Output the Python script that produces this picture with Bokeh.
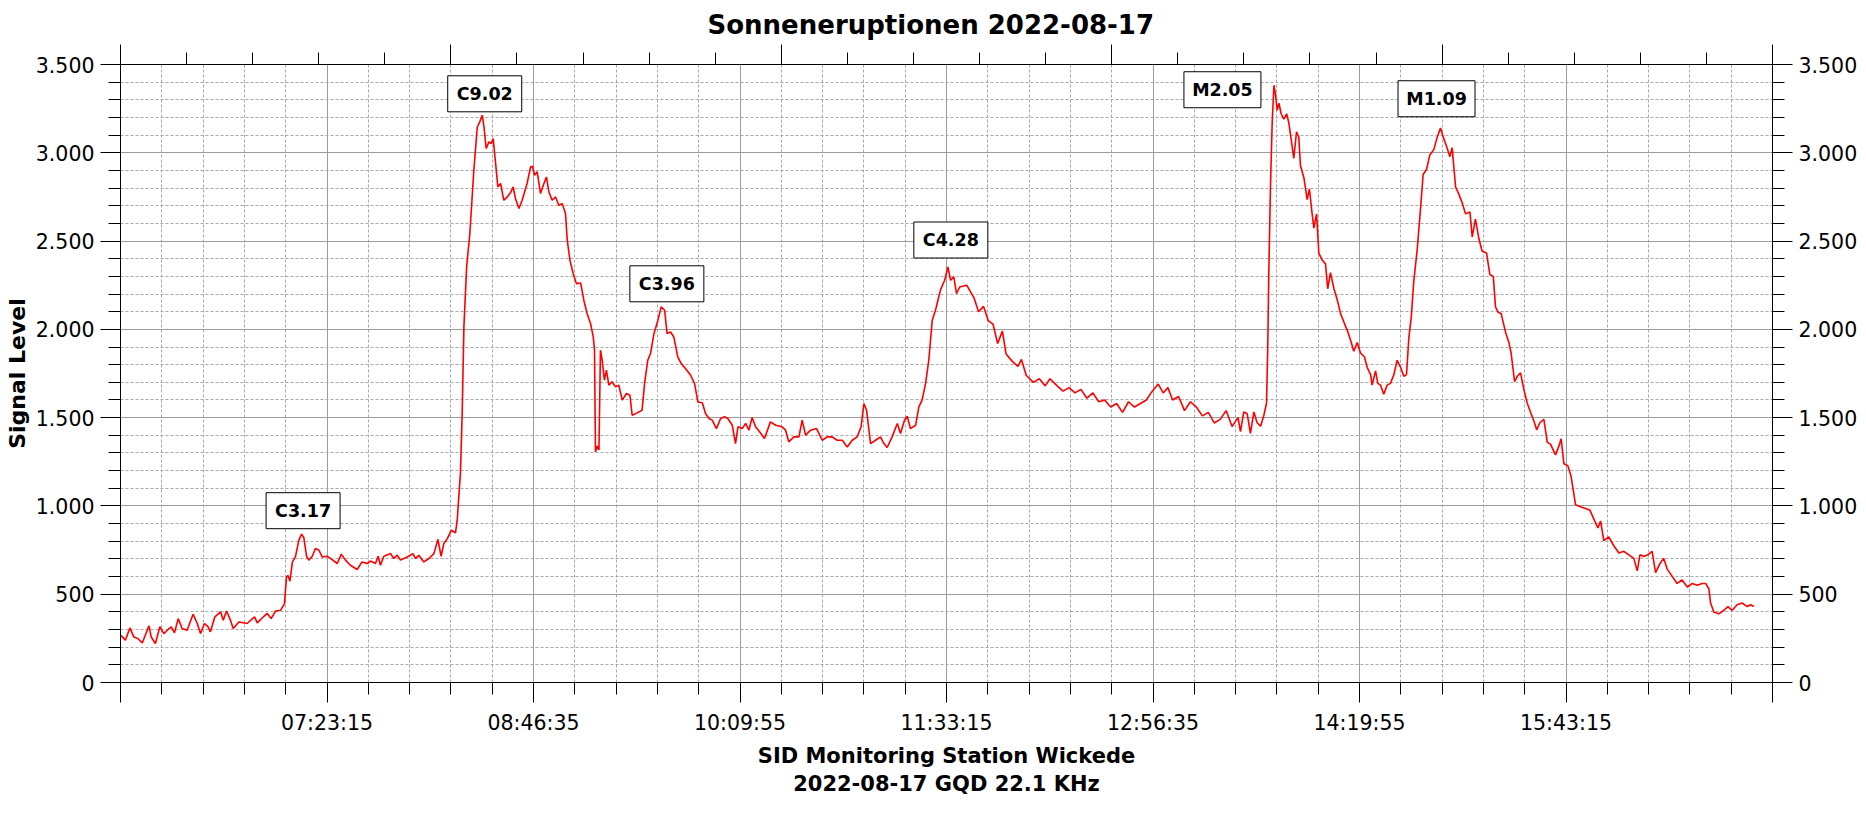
from bokeh.plotting import figure
from bokeh.models import Range1d, LinearAxis, FixedTicker, CustomJSTickFormatter, ColumnDataSource
from bokeh.core.properties import value
from bokeh.embed import file_html
from bokeh.resources import INLINE

# ---------------- data (time in minutes since midnight, signal level) ----------------
minutes = [
    359.9, 361.9, 363.7, 365.3, 366.9, 368.7, 371.4, 372.3, 374.0, 375.8,
    377.4, 378.8, 380.4, 381.7, 383.2, 384.8, 386.8, 389.2, 390.9, 392.2,
    393.8, 395.2, 396.2, 398.0, 400.3, 401.4, 402.7, 404.3, 405.4, 407.7,
    411.0, 414.0, 415.1, 417.8, 419.1, 420.7, 422.5, 424.5, 426.1, 426.9,
    427.5, 428.3, 429.3, 430.5, 431.9, 433.0, 433.9, 435.0, 435.9, 437.3,
    438.6, 440.0, 441.3, 443.3, 445.3, 447.4, 449.0, 450.7, 452.7, 455.4,
    457.4, 459.5, 460.8, 462.8, 463.9, 464.8, 466.2, 468.9, 470.2, 471.6,
    472.9, 475.6, 477.9, 479.0, 480.3, 482.3, 484.4, 486.4, 488.0, 489.3,
    490.4, 491.8, 493.4, 495.1, 495.8, 496.9,
    497.1, 497.8, 498.5, 499.6, 500.9, 502.5, 503.9, 504.9, 505.9, 506.6,
    507.5, 508.6, 509.5, 510.3, 511.3, 512.2, 513.3, 514.6, 516.0, 517.3,
    518.4, 519.3, 520.7, 522.0, 524.0, 525.4, 526.2, 527.0, 528.1, 529.4,
    530.8, 531.8, 532.8, 534.1, 535.5, 536.8, 538.2, 539.5, 540.2, 541.3,
    542.6, 543.9, 545.6, 546.9, 548.2, 549.6, 550.7, 551.2, 551.6, 552.3,
    553.0, 553.6, 554.3, 555.2, 556.0, 557.0, 558.3, 559.7, 561.0, 562.4,
    564.1, 565.5, 566.4, 568.4, 570.4, 571.4, 572.7, 573.8, 575.2, 576.8,
    578.1, 579.5, 580.5, 581.9, 583.2, 584.8, 586.2, 587.9, 590.0, 591.6,
    592.9, 594.7, 596.0, 597.4, 598.7, 600.4, 602.1, 603.7, 605.0, 606.8,
    608.1, 609.1, 610.8, 612.2, 613.5, 614.8, 616.2, 617.9, 619.8, 622.2,
    624.3, 626.9, 628.3, 629.6, 631.7, 633.7, 635.0, 636.4, 638.4, 640.8,
    643.1, 645.1, 647.1, 649.1, 651.2, 653.2, 655.2, 657.2, 658.8, 659.9,
    661.0, 662.6, 664.6, 666.6, 668.0, 669.3, 671.3, 673.4, 674.7, 676.3,
    677.4, 678.7, 680.8, 682.1, 683.4, 684.8, 686.1, 687.5, 688.8, 690.8,
    692.5, 693.8, 694.9, 696.2, 697.3, 698.6,
    701.4, 704.3, 706.2, 708.2, 710.1, 712.0, 713.9, 715.8, 717.3, 719.7,
    722.1, 723.5, 725.4, 728.3, 730.7, 733.1, 735.0, 737.9, 740.3, 742.7,
    745.1, 747.5, 749.9, 752.3, 754.7, 757.1, 759.5, 761.9, 764.3, 766.7,
    769.1, 771.5, 773.9, 776.3, 778.7, 780.7, 782.6, 784.5, 786.9, 789.3,
    791.7, 794.1, 796.5, 798.9, 801.3, 803.7, 806.1, 808.5, 810.9,
    811.9, 813.2, 814.6, 815.9, 817.3, 818.6, 820.0, 821.3, 822.4, 822.9,
    823.3, 824.0, 824.7, 825.4, 826.0, 826.7, 827.4, 828.3, 829.4, 830.5,
    831.4, 832.3, 833.4, 834.5, 835.4, 836.1, 837.5, 838.8, 839.7, 840.8,
    841.5, 842.6, 843.5, 844.9, 846.2, 847.1, 848.2, 849.6, 850.9, 852.3,
    854.3, 855.2, 856.6, 857.6, 859.0, 860.3, 861.9, 863.0, 864.4, 865.0,
    866.4, 867.3, 868.4, 869.7, 871.1, 872.4, 873.8, 875.1, 876.5, 877.8,
    878.9, 879.8, 880.8, 881.8, 883.2, 884.5, 885.6, 887.0, 888.3, 889.9,
    891.3, 892.6, 893.7, 895.0, 896.4, 897.3, 898.7, 900.0, 901.4, 902.7,
    904.5, 905.4, 906.7, 908.1, 909.4, 911.2, 912.5, 913.9, 914.8, 915.8,
    917.1, 918.8, 920.2, 921.1, 922.5, 923.6, 924.9, 926.2, 927.6, 928.9,
    930.3, 931.4, 932.7, 934.3, 935.7, 937.0, 939.0, 940.4, 941.3, 942.4,
    944.0, 945.3, 947.1, 949.1, 951.1, 952.9, 954.5, 956.1, 957.2, 958.5,
    960.5, 962.6, 964.6, 966.6, 968.6, 970.6, 972.0, 973.1, 974.7, 976.3,
    978.0, 979.4, 981.1, 982.7, 984.1, 986.1, 988.1, 990.1, 992.2, 994.2,
    996.2, 998.2, 999.6, 1000.9, 1001.6, 1002.9, 1004.9, 1007.0, 1008.6, 1010.3,
    1012.3, 1014.4, 1016.4, 1017.7, 1019.1,
]

signal = [
    268, 240, 309, 258, 249, 224, 321, 258, 221, 316,
    277, 296, 315, 281, 362, 306, 296, 387, 334, 277,
    334, 316, 287, 372, 400, 353, 405, 353, 306, 343,
    334, 372, 338, 375, 391, 362, 405, 409, 447, 598,
    606, 574, 683, 711, 806, 840, 821, 715, 693, 715,
    759, 749, 711, 715, 696, 674, 727, 693, 664, 640,
    683, 674, 688, 674, 715, 664, 715, 730, 702, 721,
    693, 711, 730, 702, 721, 683, 702, 730, 810, 715,
    787, 815, 862, 847, 919, 1146,
    1184, 1523, 2014, 2354, 2543, 2901, 3146, 3175, 3213, 3146,
    3024, 3062, 3052, 3081, 2939, 2807, 2826, 2731, 2750, 2773,
    2807, 2741, 2684, 2731, 2826, 2920, 2924, 2873, 2892, 2769,
    2826, 2863, 2778, 2731, 2750, 2703, 2712, 2656, 2505, 2391,
    2316, 2259, 2263, 2165, 2090, 2033, 1957, 1882, 1306, 1340,
    1317, 1882, 1825, 1712, 1769, 1684, 1703, 1674, 1684, 1599,
    1637, 1627, 1514, 1527, 1542, 1693, 1825, 1863, 1976, 2052,
    2127, 2108, 1976, 1985, 1957, 1844, 1806, 1778, 1740, 1693,
    1589, 1584, 1523, 1495, 1486, 1438, 1495, 1505, 1495, 1457,
    1353, 1448, 1438, 1467, 1429, 1500, 1448, 1419, 1382, 1476,
    1457, 1448, 1429, 1363, 1391, 1391, 1486, 1400, 1429, 1438,
    1372, 1391, 1391, 1372, 1372, 1334, 1372, 1391, 1448, 1580,
    1542, 1353, 1372, 1391, 1353, 1331, 1391, 1467, 1410, 1486,
    1508, 1438, 1457, 1561, 1599, 1693, 1825, 2052, 2108, 2222,
    2278, 2354, 2278, 2297, 2203, 2240,
    2250, 2180, 2100, 2130, 2050, 2030, 1920, 1990, 1860, 1820,
    1790, 1830, 1740, 1700, 1720, 1680, 1720, 1680, 1650, 1670,
    1640, 1660, 1610, 1640, 1590, 1600, 1560, 1580, 1530, 1590,
    1560, 1580, 1600, 1650, 1690, 1640, 1670, 1600, 1620, 1540,
    1590, 1560, 1510, 1530, 1470, 1490, 1540, 1450, 1500,
    1421, 1532, 1522, 1411, 1532, 1471, 1451, 1512, 1582, 1906,
    2311, 2816, 3180, 3382, 3332, 3241, 3281, 3221, 3190, 3221,
    3170, 3079, 2968, 3119, 3089, 2927, 2857, 2735, 2796, 2654,
    2573, 2654, 2432, 2391, 2371, 2230, 2321, 2230, 2169, 2088,
    2017, 1987, 1926, 1876, 1926, 1866, 1845, 1785, 1744, 1684,
    1765, 1694, 1684, 1633, 1684, 1694, 1744, 1825, 1785, 1734,
    1744, 1947, 2068, 2270, 2452, 2675, 2877, 2907, 2988, 3018,
    3089, 3140, 3089, 3039, 2978, 3029, 2806, 2766, 2715, 2654,
    2664, 2523, 2624, 2513, 2442, 2432, 2311, 2300, 2128, 2098,
    2088, 1987, 1926, 1866, 1704, 1734, 1754, 1663, 1582, 1532,
    1481, 1431, 1471, 1491, 1360, 1350, 1289, 1340, 1380, 1239,
    1228, 1168, 1006, 996, 986, 976, 925, 875, 915, 804,
    824, 773, 733, 743, 723, 703, 632, 723, 713, 723,
    743, 622, 672, 703, 642, 601, 561, 581, 541, 561,
    551, 561, 561, 531, 450, 399, 389, 409, 430, 409,
    440, 450, 430, 440, 430,
]

flare_labels = ["C3.17", "C9.02", "C3.96", "C4.28", "M2.05", "M1.09"]
flare_label_minutes = [433.6, 506.9, 580.4, 695.0, 804.6, 891.0]
flare_label_levels = [973, 3334, 2258, 2506, 3357, 3306]

x_start_sec = 21595          # 05:59:55
x_major_step = 5000          # seconds between labelled ticks
x_minor_step = 1000
top_major_step = 8000
top_minor_step = 1600
x_tick_labels = ["", "07:23:15", "08:46:35", "10:09:55", "11:33:15",
                 "12:56:35", "14:19:55", "15:43:15", ""]
y_major_ticks = [0, 500, 1000, 1500, 2000, 2500, 3000, 3500]
y_minor_step = 100

title_text = "Sonneneruptionen 2022-08-17"
x_title = "SID Monitoring Station Wickede\n2022-08-17 GQD 22.1 KHz"
y_title = "Signal Level"

# ---------------- figure ----------------
n = min(len(minutes), len(signal))
src = ColumnDataSource(dict(t=[round(m * 60) for m in minutes[:n]], v=signal[:n]))

x_end_sec = x_start_sec + (len(x_tick_labels) - 1) * x_major_step
y_max = y_major_ticks[-1]

FONT = "DejaVu Sans"
TICK_FS = "20.5px"

p = figure(width=1866, height=816, output_backend="svg", toolbar_location=None,
           x_range=Range1d(x_start_sec, x_end_sec), y_range=Range1d(0, y_max),
           min_border_left=120, min_border_right=94, min_border_top=64, min_border_bottom=134,
           background_fill_color="white", border_fill_color="white")
p.outline_line_color = "black"
p.outline_line_width = 1

p.title.text = title_text
p.title.text_font = FONT
p.title.text_font_size = "26px"
p.title.text_font_style = "bold"
p.title.text_color = "black"
p.title.align = "left"
p.title.offset = 587

bottom_ticker = FixedTicker(
    ticks=[x_start_sec + k * x_major_step for k in range(len(x_tick_labels))],
    minor_ticks=[x_start_sec + k * x_minor_step for k in range((x_end_sec - x_start_sec) // x_minor_step + 1)])
top_ticker = FixedTicker(
    ticks=[x_start_sec + k * top_major_step for k in range((x_end_sec - x_start_sec) // top_major_step + 1)],
    minor_ticks=[x_start_sec + k * top_minor_step for k in range((x_end_sec - x_start_sec) // top_minor_step + 1)])
y_ticker = FixedTicker(ticks=y_major_ticks,
                       minor_ticks=list(range(0, y_max + 1, y_minor_step)))

x_fmt = CustomJSTickFormatter(args=dict(labels=x_tick_labels, start=x_start_sec, step=x_major_step), code="""
const i = Math.round((tick - start) / step);
return (i >= 0 && i < labels.length) ? labels[i] : "";
""")
y_fmt = CustomJSTickFormatter(code=r"""
const s = Math.round(tick).toString();
return s.replace(/\B(?=(\d{3})+(?!\d))/g, '.');
""")
blank_fmt = CustomJSTickFormatter(code="return '';")


def style_axis(ax):
    ax.axis_line_color = "black"
    ax.axis_line_width = 1
    ax.major_tick_line_color = "black"
    ax.minor_tick_line_color = "black"
    ax.major_tick_in = 0
    ax.minor_tick_in = 0
    ax.major_tick_out = 20
    ax.minor_tick_out = 12
    ax.major_label_text_font = FONT
    ax.major_label_text_font_size = TICK_FS
    ax.major_label_text_color = "black"
    ax.major_label_standoff = 6


xb = p.xaxis[0]
xb.ticker = bottom_ticker
xb.formatter = x_fmt
style_axis(xb)
xb.major_label_standoff = 8
xb.axis_label = x_title
xb.axis_label_text_font = FONT
xb.axis_label_text_font_size = "21px"
xb.axis_label_text_font_style = "bold"
xb.axis_label_text_color = "black"
xb.axis_label_standoff = 6

yl = p.yaxis[0]
yl.ticker = y_ticker
yl.formatter = y_fmt
style_axis(yl)
yl.axis_label = y_title
yl.axis_label_text_font = FONT
yl.axis_label_text_font_size = "22px"
yl.axis_label_text_font_style = "bold"
yl.axis_label_text_color = "black"
yl.axis_label_standoff = 3

yr = LinearAxis(ticker=y_ticker, formatter=y_fmt)
style_axis(yr)
p.add_layout(yr, "right")

xt = LinearAxis(ticker=top_ticker, formatter=blank_fmt)
style_axis(xt)
xt.major_label_standoff = 0
xt.major_label_text_font_size = "1px"
p.add_layout(xt, "above")

p.xgrid.ticker = bottom_ticker
p.ygrid.ticker = y_ticker
for g in (p.xgrid, p.ygrid):
    g.grid_line_color = "#9c9c9c"
    g.grid_line_width = 1
    g.minor_grid_line_color = "#a8a8a8"
    g.minor_grid_line_width = 1
    g.minor_grid_line_dash = "3 2"

p.line("t", "v", source=src, line_color="#ff0000", line_width=1.6)

lab_src = ColumnDataSource(dict(x=[round(m * 60) for m in flare_label_minutes],
                                y=flare_label_levels, text=flare_labels,
                                w=[77 if s.startswith("M") else 74 for s in flare_labels]))
p.rect("x", "y", width="w", height=36, width_units="screen", height_units="screen",
       source=lab_src, fill_color="white", line_color="black", line_width=1)
p.text("x", "y", text="text", source=lab_src, text_align="center", text_baseline="middle",
       text_font=value(FONT), text_font_style="bold", text_font_size="17.5px", text_color="black")

open("out.html", "w").write(file_html(p, INLINE))
